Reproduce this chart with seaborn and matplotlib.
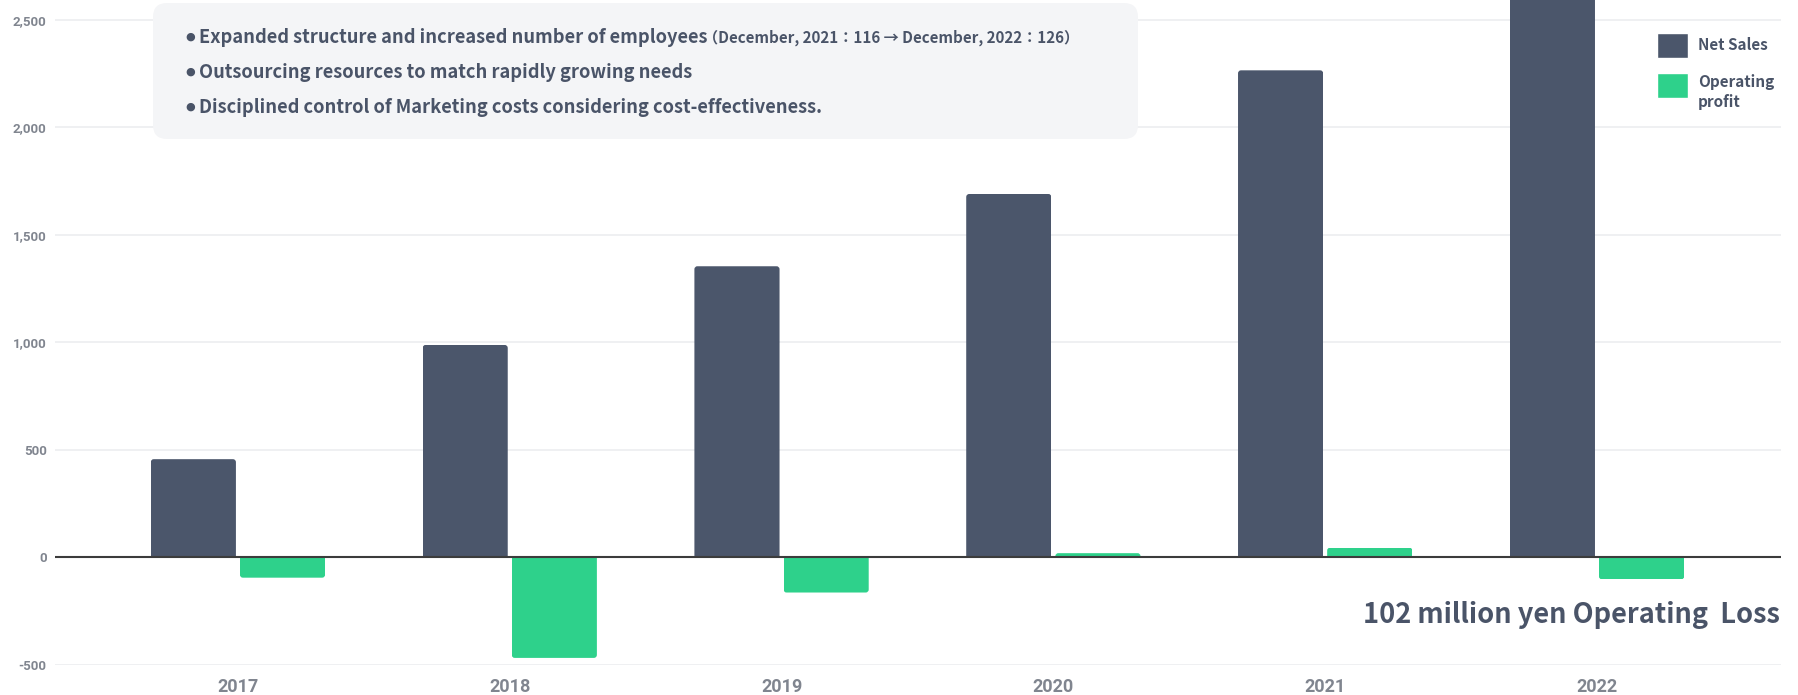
import matplotlib
matplotlib.use("Agg")
import matplotlib.pyplot as plt
import pandas as pd
import seaborn as sns
from matplotlib.patches import FancyBboxPatch, Rectangle
from matplotlib.transforms import IdentityTransform

# ---- data (hundred-million-yen scale as shown on the axis) ----
years = ["2017", "2018", "2019", "2020", "2021", "2022"]
net_sales = [457, 988, 1354, 1690, 2265, 2980]
operating_profit = [-94, -467, -163, 20, 46, -102]
series_names = ["Net Sales", "Operating\nprofit"]
y_ticks = [-500, 0, 500, 1000, 1500, 2000, 2500]

notes = [
    "Expanded structure and increased number of employees",
    "Outsourcing resources to match rapidly growing needs",
    "Disciplined control of Marketing costs considering cost-effectiveness.",
]
note_detail = "（December, 2021：116 → December, 2022：126）"
loss_caption = "102 million yen Operating  Loss"

# ---- styling ----
NAVY = "#4b566b"
GREEN = "#2ed18b"
TEXT = "#4a5468"
TICK = "#80858f"
GRID = "#eeeff1"
W, H = 1799, 695

sns.set_style("white")
plt.rcParams["font.family"] = ["Noto Sans CJK JP", "DejaVu Sans"]

df = pd.DataFrame({
    "year": years * 2,
    "series": [series_names[0]] * len(years) + [series_names[1]] * len(years),
    "value": net_sales + operating_profit,
})

fig = plt.figure(figsize=(W / 100, H / 100), dpi=100)
ax = fig.add_axes([55 / W, 30 / H, (1781 - 55) / W, 665 / H])

sns.barplot(data=df, x="year", y="value", hue="series",
            palette=[NAVY, GREEN], saturation=1, width=0.656, gap=0.045,
            ax=ax, zorder=2)

ax.set_xlim(-0.673, 5.677)
ax.set_ylim(-500, 2592)
ax.set_yticks(y_ticks)
ax.set_yticklabels([f"{v:,}" for v in y_ticks], fontfamily="Roboto",
                   fontweight="bold", fontsize=9.5, color=TICK)
ax.set_xticks(range(len(years)))
ax.set_xticklabels(years, fontfamily="Roboto", fontweight="bold",
                   fontsize=13, color=TICK)
ax.tick_params(axis="y", length=0, pad=6)
ax.tick_params(axis="x", length=0, pad=9.5)
ax.set_xlabel("")
ax.set_ylabel("")
for s in ax.spines.values():
    s.set_visible(False)
ax.yaxis.grid(True, color=GRID, lw=1.3)
ax.set_axisbelow(True)
ax.axhline(0, color="#3c3c3c", lw=1.5, zorder=3)

# legend at the upper right
handles, labels = ax.get_legend_handles_labels()
leg = ax.legend(handles, labels, loc="upper left",
                bbox_to_anchor=(1657 / W, 1 - 33 / H),
                bbox_transform=fig.transFigure, frameon=False,
                fontsize=11, handlelength=2.0, handleheight=2.15,
                handletextpad=0.7, labelspacing=0.5,
                borderpad=0, borderaxespad=0)
for t in leg.get_texts():
    t.set_color(TEXT)
    t.set_fontweight("bold")
    t.set_linespacing(1.3)
# two-line label sits top-aligned with its swatch
leg.get_texts()[1].set_y(-8)

# round the outer corners of each bar (the end away from the zero line)
fig.canvas.draw()
px_x = ax.transData.transform((1, 0))[0] - ax.transData.transform((0, 0))[0]
px_y = ax.transData.transform((0, 1))[1] - ax.transData.transform((0, 0))[1]
aspect = px_x / px_y
r_x = 3.0 / px_x
r_y = r_x * aspect
for bar in [p for p in ax.patches if isinstance(p, Rectangle)]:
    x0, w = bar.get_x(), bar.get_width()
    y0, h = bar.get_y(), bar.get_height()
    lo, hi = min(y0, y0 + h), max(y0, y0 + h)
    if hi <= 0:
        hi += r_y
    else:
        lo -= r_y
    rounded = FancyBboxPatch((x0, lo), w, hi - lo,
                             boxstyle=f"round,pad=0,rounding_size={r_x}",
                             mutation_aspect=aspect,
                             facecolor=bar.get_facecolor(), edgecolor="none",
                             zorder=2)
    ax.add_patch(rounded)
    rounded.set_clip_path(bar)
    bar.set_visible(False)

# note panel
panel = FancyBboxPatch((153, H - 139), 985, 136,
                       boxstyle="round,pad=0,rounding_size=14",
                       transform=IdentityTransform(), facecolor="#f4f5f7",
                       edgecolor="none", zorder=5)
fig.add_artist(panel)

baselines = [42.7, 78.3, 113.3]
line_texts = []
for note, yb in zip(notes, baselines):
    fig.text(185 / W, 1 - (yb - 3.5) / H, "●", fontfamily="DejaVu Sans",
             fontsize=8, color=TEXT, va="baseline", ha="left", zorder=6)
    t = fig.text(199 / W, 1 - yb / H, note, fontsize=13.15, fontweight="bold",
                 color=TEXT, va="baseline", ha="left", zorder=6)
    line_texts.append(t)

fig.canvas.draw()
x_end = line_texts[0].get_window_extent().x1 - 4
fig.text(x_end / W, 1 - baselines[0] / H, note_detail, fontsize=10.9,
         fontweight="bold", color=TEXT, va="baseline", ha="left", zorder=6)

# annotation under the 2022 bars
ax.text(1780 / W, 1 - 623 / H, loss_caption, transform=fig.transFigure,
        fontsize=19.6, fontweight="bold", color=TEXT, ha="right",
        va="baseline")

fig.savefig("out.png", dpi=100)
